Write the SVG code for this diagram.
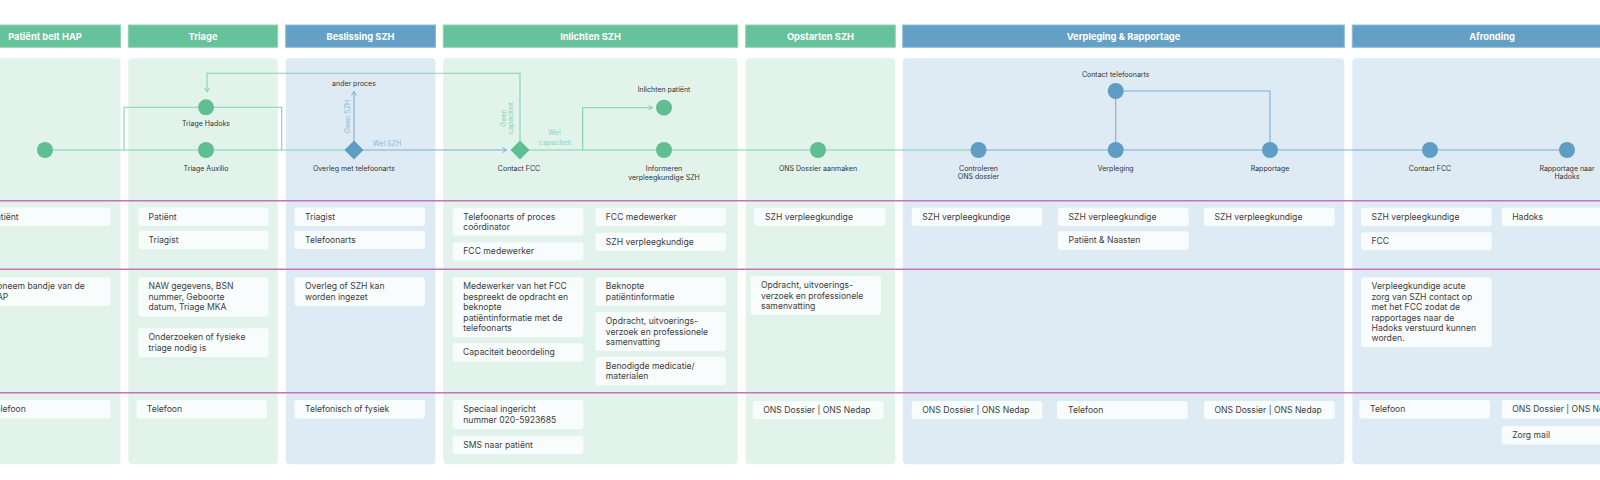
<svg xmlns="http://www.w3.org/2000/svg" width="1600" height="480" viewBox="0 0 1600 480">
<style>
text{font-family:Inter,"Liberation Sans",sans-serif}
.hdr-g{fill:#66C29B;stroke:#8fd3b4;stroke-width:1}
.hdr-b{fill:#64A0C6;stroke:#8bbbd9;stroke-width:1}
.hdr-t{fill:#ffffff;font-size:9.3px;font-weight:700;text-anchor:middle}
.lane-g{fill:#E1F3EA}
.lane-b{fill:#DFEBF4}
.sep{stroke:#C973B4;stroke-width:1.4;fill:none}
.card{fill:#FBFDFD;fill-opacity:0.92}
.ct{fill:#3c3c3c;font-size:8.6px}
.lbl{fill:#333333;font-size:7px;text-anchor:middle}
.ng{fill:#5FBF92}
.nb{fill:#5F9DC4}
.cg{stroke:#80D3AF;stroke-width:1.1;fill:none}
.cb{stroke:#7CAFD3;stroke-width:1.1;fill:none}
.tg{fill:#8FD6B6;font-size:7px;text-anchor:middle}
.tb{fill:#8DB9D9;font-size:7px;text-anchor:middle}
</style>
<defs>
<marker id="ag" markerUnits="userSpaceOnUse" markerWidth="8" markerHeight="8" refX="4.5" refY="3" orient="auto">
<path d="M0.5,0.5 L4.5,3 L0.5,5.5" fill="none" stroke="#80D3AF" stroke-width="1"/>
</marker>
<marker id="ab" markerUnits="userSpaceOnUse" markerWidth="8" markerHeight="8" refX="4.5" refY="3" orient="auto">
<path d="M0.5,0.5 L4.5,3 L0.5,5.5" fill="none" stroke="#7CAFD3" stroke-width="1"/>
</marker>
</defs>
<rect width="1600" height="480" fill="#ffffff"/>

<g id="lanes">
<rect class="hdr-g" x="-30" y="25" width="150.5" height="22.3"/>
<text class="hdr-t" x="45" y="39.5">Patiënt belt HAP</text>
<rect class="lane-g" x="-30" y="58.3" width="150.5" height="406" rx="4"/>

<rect class="hdr-g" x="128.3" y="25" width="149.4" height="22.3"/>
<text class="hdr-t" x="203" y="39.5">Triage</text>
<rect class="lane-g" x="128.3" y="58.3" width="149.4" height="406" rx="4"/>

<rect class="hdr-b" x="285.7" y="25" width="149.8" height="22.3"/>
<text class="hdr-t" x="360.6" y="39.5">Beslissing SZH</text>
<rect class="lane-b" x="285.7" y="58.3" width="149.8" height="406" rx="4"/>

<rect class="hdr-g" x="443.3" y="25" width="294.4" height="22.3"/>
<text class="hdr-t" x="590.5" y="39.5">Inlichten SZH</text>
<rect class="lane-g" x="443.3" y="58.3" width="294.4" height="406" rx="4"/>

<rect class="hdr-g" x="745.7" y="25" width="149.6" height="22.3"/>
<text class="hdr-t" x="820.5" y="39.5">Opstarten SZH</text>
<rect class="lane-g" x="745.7" y="58.3" width="149.6" height="406" rx="4"/>

<rect class="hdr-b" x="902.7" y="25" width="441.6" height="22.3"/>
<text class="hdr-t" x="1123.5" y="39.5">Verpleging &amp; Rapportage</text>
<rect class="lane-b" x="902.7" y="58.3" width="441.6" height="406" rx="4"/>

<rect class="hdr-b" x="1352.3" y="25" width="279.4" height="22.3"/>
<text class="hdr-t" x="1492" y="39.5">Afronding</text>
<rect class="lane-b" x="1352.3" y="58.3" width="290" height="406" rx="4"/>
</g>

<g id="separators">
<line class="sep" x1="0" y1="200.7" x2="1600" y2="200.7"/>
<line class="sep" x1="0" y1="269.3" x2="1600" y2="269.3"/>
<line class="sep" x1="0" y1="392.7" x2="1600" y2="392.7"/>
</g>

<g id="connectors">
<path class="cg" d="M45,150 H354"/>
<path class="cb" d="M354,150 H506.5" marker-end="url(#ab)"/>
<path class="cg" d="M520,150 H978.5"/>
<path class="cb" d="M978.5,150 H1567"/>
<path class="cg" d="M124,150 V107.3 H281.7 V150"/>
<path class="cg" d="M520,141 V73.3 H207 V92" marker-end="url(#ag)"/>
<path class="cb" d="M354,141 V91.5" marker-end="url(#ab)"/>
<path class="cg" d="M582.7,150 V107.7 H652.5" marker-end="url(#ag)"/>
<path class="cb" d="M1115.7,150 V91 H1270 V150"/>
<text class="tb" transform="translate(349.8,116.5) rotate(-90)">Geen SZH</text>
<text class="tb" x="387" y="145.5">Wel SZH</text>
<text class="tg" transform="translate(505.8,118) rotate(-90)"><tspan x="0" y="0">Geen</tspan><tspan x="0" y="7.6">capaciteit</tspan></text>
<text class="tg" x="554.5" y="135">Wel</text>
<text class="tg" x="555" y="144.5">capaciteit</text>
</g>

<g id="node-start"><circle class="ng" cx="45" cy="150" r="8"/></g>
<g id="node-triage-hadoks"><circle class="ng" cx="206" cy="107.3" r="8"/><text class="lbl" x="206" y="125.8">Triage Hadoks</text></g>
<g id="node-triage-auxilio"><circle class="ng" cx="206" cy="150" r="8"/><text class="lbl" x="206" y="170.8">Triage Auxilio</text></g>
<g id="node-overleg"><path class="nb" d="M354,140.5 L363.5,150 L354,159.5 L344.5,150 Z"/><text class="lbl" x="354" y="170.8">Overleg met telefoonarts</text></g>
<g id="node-ander-proces"><text class="lbl" x="354" y="85.8">ander proces</text></g>
<g id="node-contact-fcc"><path class="ng" d="M520,140.5 L529.5,150 L520,159.5 L510.5,150 Z"/><text class="lbl" x="519" y="170.8">Contact FCC</text></g>
<g id="node-inlichten-patient"><circle class="ng" cx="664" cy="107.7" r="8"/><text class="lbl" x="664" y="91.5">Inlichten patiënt</text></g>
<g id="node-informeren"><circle class="ng" cx="664" cy="150" r="8"/><text class="lbl" x="664" y="170.8"><tspan x="664">Informeren</tspan><tspan x="664" y="179.8">verpleegkundige SZH</tspan></text></g>
<g id="node-ons-dossier"><circle class="ng" cx="818" cy="150" r="8"/><text class="lbl" x="818" y="170.8">ONS Dossier aanmaken</text></g>
<g id="node-controleren"><circle class="nb" cx="978.5" cy="150" r="8"/><text class="lbl" x="978.5" y="170.5"><tspan x="978.5">Controleren</tspan><tspan x="978.5" y="179.2">ONS dossier</tspan></text></g>
<g id="node-verpleging"><circle class="nb" cx="1115.7" cy="150" r="8"/><text class="lbl" x="1115.7" y="170.8">Verpleging</text></g>
<g id="node-contact-telefoonarts"><circle class="nb" cx="1115.7" cy="91" r="8"/><text class="lbl" x="1115.7" y="76.8">Contact telefoonarts</text></g>
<g id="node-rapportage"><circle class="nb" cx="1270" cy="150" r="8"/><text class="lbl" x="1270" y="170.8">Rapportage</text></g>
<g id="node-contact-fcc-2"><circle class="nb" cx="1430" cy="150" r="8"/><text class="lbl" x="1430" y="170.8">Contact FCC</text></g>
<g id="node-rapportage-hadoks"><circle class="nb" cx="1567" cy="150" r="8"/><text class="lbl" x="1567" y="170.5"><tspan x="1567">Rapportage naar</tspan><tspan x="1567" y="179.2">Hadoks</tspan></text></g>

<g id="cards-patient">
<rect class="card" x="-20" y="207.5" width="130.5" height="18.4" rx="3"/><text class="ct" x="-9.5" y="219.6">Patiënt</text>
<rect class="card" x="-20" y="277.3" width="130.5" height="28.8" rx="3"/><text class="ct" y="289.4"><tspan x="-9.5">Opneem bandje van de</tspan><tspan x="-9.5" dy="10.4">HAP</tspan></text>
<rect class="card" x="-20" y="400" width="130.5" height="18.4" rx="3"/><text class="ct" x="-9.5" y="412.1">Telefoon</text>
</g>

<g id="cards-triage">
<rect class="card" x="138.3" y="207.5" width="130.4" height="18.4" rx="3"/><text class="ct" x="148.5" y="219.6">Patiënt</text>
<rect class="card" x="138.3" y="230.7" width="130.4" height="18.4" rx="3"/><text class="ct" x="148.5" y="242.8">Triagist</text>
<rect class="card" x="138.3" y="277.3" width="130.4" height="39.4" rx="3"/><text class="ct" y="289.4"><tspan x="148.5">NAW gegevens, BSN</tspan><tspan x="148.5" dy="10.4">nummer, Geboorte</tspan><tspan x="148.5" dy="10.4">datum, Triage MKA</tspan></text>
<rect class="card" x="138.3" y="328.3" width="130.4" height="28.6" rx="3"/><text class="ct" y="340.4"><tspan x="148.5">Onderzoeken of fysieke</tspan><tspan x="148.5" dy="10.4">triage nodig is</tspan></text>
<rect class="card" x="136.5" y="400" width="130.4" height="18.4" rx="3"/><text class="ct" x="146.8" y="412.1">Telefoon</text>
</g>

<g id="cards-beslissing">
<rect class="card" x="294.3" y="207.5" width="130.7" height="18.4" rx="3"/><text class="ct" x="305" y="219.6">Triagist</text>
<rect class="card" x="294.3" y="230.7" width="130.7" height="18.4" rx="3"/><text class="ct" x="305" y="242.8">Telefoonarts</text>
<rect class="card" x="294.3" y="277.3" width="130.7" height="28.8" rx="3"/><text class="ct" y="289.4"><tspan x="305">Overleg of SZH kan</tspan><tspan x="305" dy="10.4">worden ingezet</tspan></text>
<rect class="card" x="294.3" y="400" width="130.7" height="18.4" rx="3"/><text class="ct" x="305" y="412.1">Telefonisch of fysiek</text>
</g>

<g id="cards-inlichten">
<rect class="card" x="452.7" y="207.7" width="130.6" height="28" rx="3"/><text class="ct" y="219.8"><tspan x="463.3">Telefoonarts of proces</tspan><tspan x="463.3" dy="10.4">coördinator</tspan></text>
<rect class="card" x="452.7" y="242.3" width="130.6" height="18.2" rx="3"/><text class="ct" x="463.3" y="254.3">FCC medewerker</text>
<rect class="card" x="595.3" y="207.7" width="130.7" height="18.4" rx="3"/><text class="ct" x="605.8" y="219.8">FCC medewerker</text>
<rect class="card" x="595.3" y="232.7" width="130.7" height="18.2" rx="3"/><text class="ct" x="605.8" y="244.8">SZH verpleegkundige</text>
<rect class="card" x="452.7" y="277.3" width="130.6" height="60" rx="3"/><text class="ct" y="289.4"><tspan x="463.3">Medewerker van het FCC</tspan><tspan x="463.3" dy="10.4">bespreekt de opdracht en</tspan><tspan x="463.3" dy="10.4">beknopte</tspan><tspan x="463.3" dy="10.4">patiëntinformatie met de</tspan><tspan x="463.3" dy="10.4">telefoonarts</tspan></text>
<rect class="card" x="452.7" y="343.3" width="130.6" height="18.4" rx="3"/><text class="ct" x="463" y="355.4">Capaciteit beoordeling</text>
<rect class="card" x="595.3" y="277.3" width="130.7" height="28.4" rx="3"/><text class="ct" y="289.4"><tspan x="605.8">Beknopte</tspan><tspan x="605.8" dy="10.4">patiëntinformatie</tspan></text>
<rect class="card" x="595.3" y="312" width="130.7" height="39" rx="3"/><text class="ct" y="324.1"><tspan x="605.8">Opdracht, uitvoerings-</tspan><tspan x="605.8" dy="10.4">verzoek en professionele</tspan><tspan x="605.8" dy="10.4">samenvatting</tspan></text>
<rect class="card" x="595.3" y="356.7" width="130.7" height="28.3" rx="3"/><text class="ct" y="368.8"><tspan x="605.8">Benodigde medicatie/</tspan><tspan x="605.8" dy="10.4">materialen</tspan></text>
<rect class="card" x="452.7" y="400" width="130.6" height="29" rx="3"/><text class="ct" y="412.1"><tspan x="463.3">Speciaal ingericht</tspan><tspan x="463.3" dy="10.4">nummer 020-5923685</tspan></text>
<rect class="card" x="452.7" y="435.7" width="130.6" height="18.3" rx="3"/><text class="ct" x="463.3" y="447.8">SMS naar patiënt</text>
</g>

<g id="cards-opstarten">
<rect class="card" x="754" y="207.7" width="131.3" height="18.4" rx="3"/><text class="ct" x="765" y="219.8">SZH verpleegkundige</text>
<rect class="card" x="750.7" y="276" width="130.3" height="39" rx="3"/><text class="ct" y="288.1"><tspan x="761">Opdracht, uitvoerings-</tspan><tspan x="761" dy="10.4">verzoek en professionele</tspan><tspan x="761" dy="10.4">samenvatting</tspan></text>
<rect class="card" x="752.7" y="401" width="131" height="18.3" rx="3"/><text class="ct" x="763.3" y="413.1">ONS Dossier | ONS Nedap</text>
</g>

<g id="cards-verpleging">
<rect class="card" x="911.7" y="207.7" width="130.6" height="18.4" rx="3"/><text class="ct" x="922.3" y="219.8">SZH verpleegkundige</text>
<rect class="card" x="1058" y="207.7" width="130.7" height="18.4" rx="3"/><text class="ct" x="1068.5" y="219.8">SZH verpleegkundige</text>
<rect class="card" x="1058" y="231.3" width="130.7" height="18.4" rx="3"/><text class="ct" x="1068.5" y="243.4">Patiënt &amp; Naasten</text>
<rect class="card" x="1204" y="207.7" width="130.7" height="18.4" rx="3"/><text class="ct" x="1214.5" y="219.8">SZH verpleegkundige</text>
<rect class="card" x="911.7" y="401" width="130.6" height="18.3" rx="3"/><text class="ct" x="922.3" y="413.1">ONS Dossier | ONS Nedap</text>
<rect class="card" x="1057" y="401" width="130.7" height="18.3" rx="3"/><text class="ct" x="1068" y="413.1">Telefoon</text>
<rect class="card" x="1204" y="401" width="130.7" height="18.3" rx="3"/><text class="ct" x="1214.5" y="413.1">ONS Dossier | ONS Nedap</text>
</g>

<g id="cards-afronding">
<rect class="card" x="1361" y="207.7" width="130.7" height="18.4" rx="3"/><text class="ct" x="1371.5" y="219.8">SZH verpleegkundige</text>
<rect class="card" x="1361" y="232.3" width="130.7" height="18" rx="3"/><text class="ct" x="1371.5" y="244.4">FCC</text>
<rect class="card" x="1501.7" y="207.7" width="130.7" height="18.4" rx="3"/><text class="ct" x="1512.2" y="219.8">Hadoks</text>
<rect class="card" x="1361" y="277.3" width="130.7" height="70" rx="3"/><text class="ct" y="289.4"><tspan x="1371.5">Verpleegkundige acute</tspan><tspan x="1371.5" dy="10.4">zorg van SZH contact op</tspan><tspan x="1371.5" dy="10.4">met het FCC zodat de</tspan><tspan x="1371.5" dy="10.4">rapportages naar de</tspan><tspan x="1371.5" dy="10.4">Hadoks verstuurd kunnen</tspan><tspan x="1371.5" dy="10.4">worden.</tspan></text>
<rect class="card" x="1359.3" y="400" width="130.7" height="18.6" rx="3"/><text class="ct" x="1370" y="412.1">Telefoon</text>
<rect class="card" x="1501.7" y="400" width="130.7" height="18.6" rx="3"/><text class="ct" x="1512.2" y="412.1">ONS Dossier | ONS Nedap</text>
<rect class="card" x="1501.7" y="426" width="130.7" height="18.4" rx="3"/><text class="ct" x="1512.2" y="438.1">Zorg mail</text>
</g>
</svg>
